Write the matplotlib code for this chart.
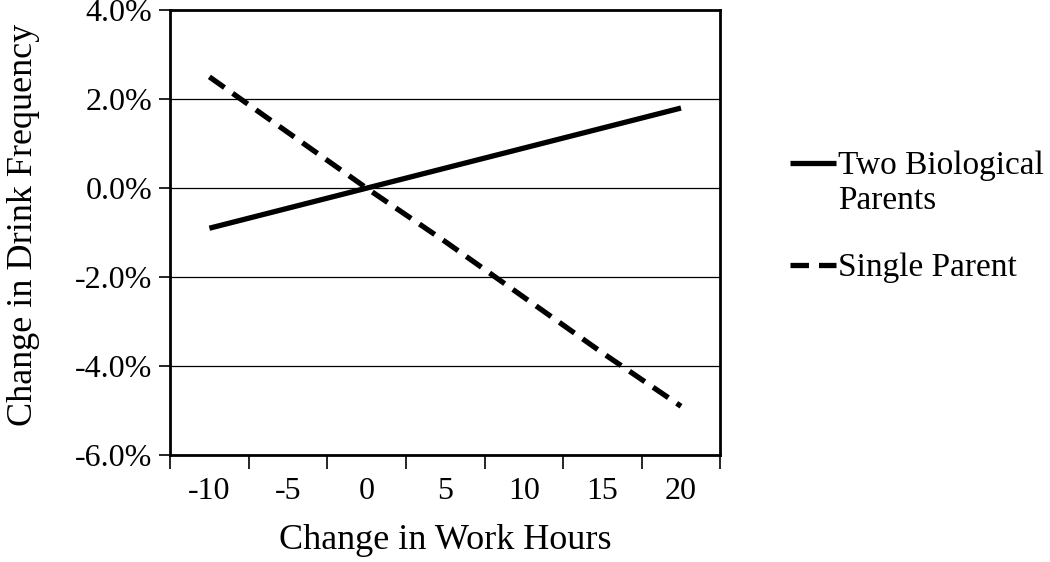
import numpy as np
import matplotlib.pyplot as plt
from matplotlib.lines import Line2D
from matplotlib.ticker import FuncFormatter

# Dados
work_hours = ["-10", "-5", "0", "5", "10", "15", "20"]
two_bio_parents = [-0.9, -0.45, 0.0, 0.45, 0.9, 1.35, 1.8]
single_parent = [2.5, 1.25, 0.0, -1.2, -2.45, -3.7, -4.9]
y_ticks = [-6, -4, -2, 0, 2, 4]

plt.rcParams['font.family'] = ['Liberation Serif', 'DejaVu Serif']

fig = plt.figure(figsize=(10.5, 5.62), dpi=100)
ax = fig.add_axes([0.162, 0.190, 0.524, 0.792])

x = np.arange(len(work_hours))
dash = (0, (3.5, 1.9))
ax.plot(x, two_bio_parents, color='black', lw=3.8, solid_capstyle='butt')
ax.plot(x, single_parent, color='black', lw=3.8, linestyle=dash, dash_capstyle='butt')

# grelha horizontal
for yv in y_ticks[1:-1]:
    ax.axhline(yv, color='black', lw=0.9, zorder=0)

ax.set_ylim(-6, 4)
ax.set_yticks(y_ticks)
ax.yaxis.set_major_formatter(FuncFormatter(lambda v, p: f"{v:.1f}%"))

ax.set_xlim(-0.5, len(work_hours) - 0.5)
ax.set_xticks(np.arange(-0.5, len(work_hours), 1.0))
ax.set_xticklabels([])
ax.set_xticks(x, minor=True)
ax.set_xticklabels(work_hours, minor=True)
ax.tick_params(axis='x', which='major', length=10, width=1.2, direction='out')
ax.tick_params(axis='x', which='minor', length=0, pad=16, labelsize=23)
ax.tick_params(axis='y', length=8, width=1.2, direction='out', labelsize=23, pad=5)

for s in ax.spines.values():
    s.set_linewidth(2)

ax.set_xlabel("Change in Work Hours", fontsize=26, labelpad=13)
ax.set_ylabel("Change in Drink Frequency", fontsize=26)
ax.yaxis.set_label_coords(-0.236, 0.517)

# legenda desenhada à mão (a linha fica alinhada com a primeira linha do texto)
leg_items = [("Two Biological\nParents", '-', 0.710), ("Single Parent", dash, 0.528)]
for label, ls, yy in leg_items:
    fig.add_artist(Line2D([790 / 1050, 836 / 1050], [yy, yy], color='black', lw=3.8,
                          linestyle=ls, solid_capstyle='butt', dash_capstyle='butt'))
    fig.text(838 / 1050, yy + 0.022, label, fontsize=24, va='top', ha='left',
             linespacing=1.2)

fig.savefig("out.png", dpi=100)
